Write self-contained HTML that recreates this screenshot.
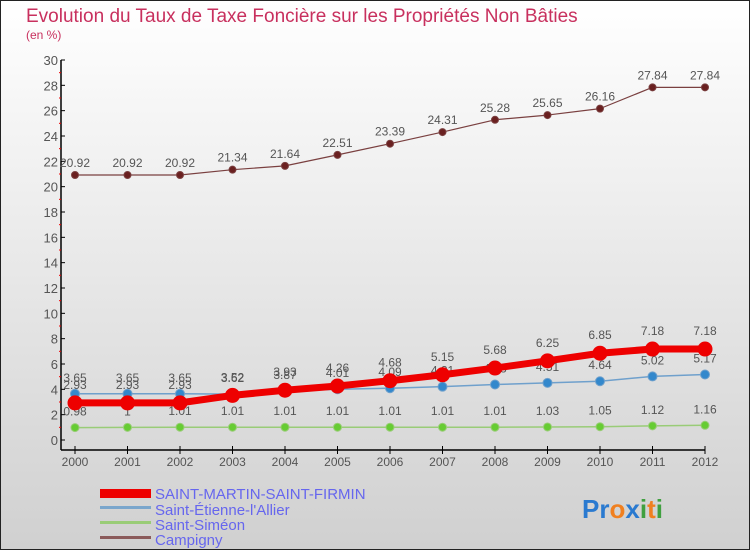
<!DOCTYPE html>
<html><head><meta charset="utf-8"><style>
body{margin:0;width:750px;height:550px;overflow:hidden;font-family:"Liberation Sans",sans-serif}
svg text{font-family:"Liberation Sans",sans-serif}
</style></head><body>
<svg id="chart" width="750" height="550" viewBox="0 0 750 550">
<defs><linearGradient id="bg" x1="0" y1="0" x2="0" y2="1"><stop offset="0" stop-color="#ffffff"/><stop offset="1" stop-color="#d0d0d0"/></linearGradient></defs>
<rect x="0.5" y="0.5" width="749" height="549" fill="url(#bg)" stroke="#222"/>
<text x="26" y="22" font-size="19" fill="#c8305e">Evolution du Taux de Taxe Foncière sur les Propriétés Non Bâties</text>
<text x="26" y="39" font-size="12" fill="#c8305e">(en %)</text>
<g id="axes"></g><g id="series"></g>
<g>
<rect x="100" y="489" width="51" height="9" fill="#e00"/>
<text x="155" y="499" font-size="15" fill="#6666ee">SAINT-MARTIN-SAINT-FIRMIN</text>
<rect x="100" y="506" width="51" height="3" fill="#7aa6cc"/>
<text x="155" y="515" font-size="15" fill="#6666ee">Saint-Étienne-l'Allier</text>
<rect x="100" y="521" width="51" height="3" fill="#99cc77"/>
<text x="155" y="530" font-size="15" fill="#6666ee">Saint-Siméon</text>
<rect x="100" y="536" width="51" height="3" fill="#8a5a5a"/>
<text x="155" y="545" font-size="15" fill="#6666ee">Campigny</text>
</g>
<text x="582" y="518" font-size="26" font-weight="bold"><tspan fill="#2a7ad0">Pr</tspan><tspan fill="#f08020">o</tspan><tspan fill="#2a7ad0">x</tspan><tspan fill="#40a040">i</tspan><tspan fill="#f08020">t</tspan><tspan fill="#40a040">i</tspan></text>
</svg>
<script>
const years=[2000,2001,2002,2003,2004,2005,2006,2007,2008,2009,2010,2011,2012];
const yTicks=[0,2,4,6,8,10,12,14,16,18,20,22,24,26,28,30];
const stMartin=[2.93,2.93,2.93,3.52,3.93,4.26,4.68,5.15,5.68,6.25,6.85,7.18,7.18];
const stEtienne=[3.65,3.65,3.65,3.62,3.87,4.01,4.09,4.21,4.38,4.51,4.64,5.02,5.17];
const stSimeon=[0.98,1,1.01,1.01,1.01,1.01,1.01,1.01,1.01,1.03,1.05,1.12,1.16];
const campigny=[20.92,20.92,20.92,21.34,21.64,22.51,23.39,24.31,25.28,25.65,26.16,27.84,27.84];
const NS='http://www.w3.org/2000/svg';
const xS=i=>75+i*52.5;
const yS=v=>440-v*12.667;
function mk(tag,attrs,parent){const e=document.createElementNS(NS,tag);for(const k in attrs)e.setAttribute(k,attrs[k]);parent.appendChild(e);return e;}
const ax=document.getElementById('axes');
let l=mk('line',{x1:61,y1:yS(30),x2:61,y2:450,stroke:'#000','stroke-width':1.5},ax);


l=mk('line',{x1:61,y1:450,x2:xS(12),y2:450,stroke:'#000','stroke-width':1.5},ax);


yTicks.forEach(v=>{
 mk('line',{x1:61,y1:yS(v),x2:65,y2:yS(v),stroke:'#000'},ax);
 if(v<30)mk('line',{x1:59,y1:yS(v+1),x2:61,y2:yS(v+1),stroke:'#e00'},ax);
 const t=mk('text',{x:58,y:yS(v)+5,'font-size':13,fill:'#555','text-anchor':'end'},ax);
 t.textContent=v;
 
 
});
years.forEach((y,i)=>{
 mk('line',{x1:xS(i),y1:446,x2:xS(i),y2:454,stroke:'#000'},ax);
 const t=mk('text',{x:xS(i),y:466,'font-size':12,fill:'#555','text-anchor':'middle'},ax);
 t.textContent=y;
 
 
});
const sg=document.getElementById('series');
function series(vals,name,color,w,r,ptFill,lblOff){
 const g=mk('g',{},sg);
 
 
 const p=mk('polyline',{points:vals.map((v,i)=>xS(i)+','+yS(v)).join(' '),fill:'none',stroke:color,'stroke-width':w,'stroke-linejoin':'round'},g);
 
 
 vals.forEach((v,i)=>{
  const c=mk('circle',{cx:xS(i),cy:yS(v),r:r,fill:ptFill,stroke:color,'stroke-width':1},g);
  
  
  const t=mk('text',{x:xS(i),y:yS(v)-lblOff,'font-size':12,fill:'#555','text-anchor':'middle'},g);
  t.textContent=v;
  
  
 });
}
series(campigny,'campigny','#7a4040',1.2,3.5,'#6a2020',8);
series(stSimeon,'saint-simeon','#99cc77',1.5,4,'#66cc33',12);
series(stEtienne,'saint-etienne','#6fa0cc',1.5,4.5,'#3388cc',12);
series(stMartin,'saint-martin','#e00',7,7,'#e00',14);
</script>
</body></html>
